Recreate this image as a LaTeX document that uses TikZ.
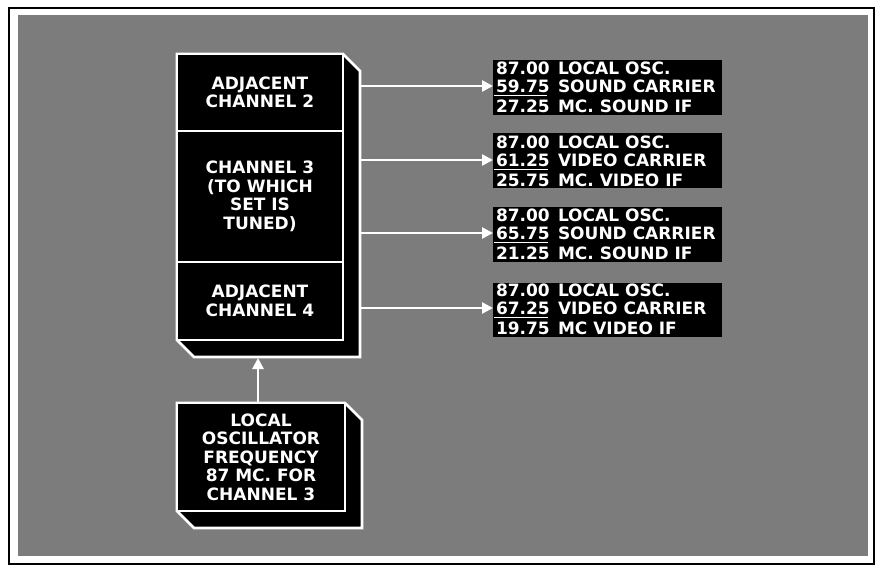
\documentclass[tikz,border=0pt]{standalone}
\usepackage{fontspec}
\newfontfamily\labfont{DejaVu Sans}
\usetikzlibrary{arrows.meta}
\definecolor{panel}{RGB}{124,124,124}
\begin{document}
\begin{tikzpicture}[x=1pt,y=-1pt,
  every node/.style={inner sep=0pt, outer sep=0pt},
  lettering/.style={text=white, font=\labfont\bfseries\fontsize{17}{18.5}\selectfont},
  face/.style={rectangle, draw=white, line width=2.6pt, fill=black, lettering, align=center},
  solid3d/.style={draw=white, fill=black, line width=2.6pt, line join=miter},
  blk/.style={rectangle, fill=black, minimum width=229pt},
  num/.style={lettering, anchor=west},
  wrd/.style={lettering, anchor=west},
  uline/.style={draw=white, line width=1.8pt},
  arr/.style={draw=white, line width=2.6pt, -{Triangle[length=11pt,width=11pt]}}
]
\useasboundingbox (0,0) rectangle (880,569);
\fill[white] (0,0) rectangle (880,569);
\draw[black, line width=1.5pt] (9,8) rectangle (874,564);
\fill[panel] (18,15) rectangle (868,556);

% tuner block
\draw[solid3d] (177,54) -- (343,54) -- (360,71) -- (360,357) -- (194,357) -- (177,340) -- cycle;
\node[face, minimum width=166pt, minimum height=77pt] (ch2) at (260,92.5) {ADJACENT\\CHANNEL 2};
\node[face, minimum width=166pt, minimum height=131pt] (ch3) at (260,196.5) {CHANNEL 3\\(TO WHICH\\SET IS\\TUNED)};
\node[face, minimum width=166pt, minimum height=78pt] (ch4) at (260,301) {ADJACENT\\CHANNEL 4};
\coordinate (sideR) at (360,0);
\coordinate (bot) at (0,358);

% oscillator block
\draw[solid3d] (177,403) -- (345,403) -- (362,420) -- (362,528) -- (194,528) -- (177,511) -- cycle;
\node[face, minimum width=168pt, minimum height=108pt] (osc) at (261,457) {LOCAL\\OSCILLATOR\\FREQUENCY\\87 MC. FOR\\CHANNEL 3};

% result blocks
\node[blk, minimum height=55pt] (b1) at (607.5,87.5) {};
\node[blk, minimum height=55pt] (b2) at (607.5,160.5) {};
\node[blk, minimum height=55pt] (b3) at (607.5,234.5) {};
\node[blk, minimum height=54pt] (b4) at (607.5,310) {};

\node[num] (b1a) at (496,68) {87.00}; \node[wrd] (b1d) at (558,68) {LOCAL OSC.};
\node[num] (b1b) at (496,86) {59.75}; \node[wrd] (b1e) at (558,86) {SOUND CARRIER};
\node[num] (b1c) at (496,106) {27.25}; \node[wrd] (b1f) at (558,106) {MC. SOUND IF};
\draw[uline] (494,95.5) -- (547,95.5);

\node[num] (b2a) at (496,142) {87.00}; \node[wrd] (b2d) at (558,142) {LOCAL OSC.};
\node[num] (b2b) at (496,160) {61.25}; \node[wrd] (b2e) at (558,160) {VIDEO CARRIER};
\node[num] (b2c) at (496,180) {25.75}; \node[wrd] (b2f) at (558,180) {MC. VIDEO IF};
\draw[uline] (494,169.5) -- (548,169.5);

\node[num] (b3a) at (496,215) {87.00}; \node[wrd] (b3d) at (558,215) {LOCAL OSC.};
\node[num] (b3b) at (496,233) {65.75}; \node[wrd] (b3e) at (558,233) {SOUND CARRIER};
\node[num] (b3c) at (496,253) {21.25}; \node[wrd] (b3f) at (558,253) {MC. SOUND IF};
\draw[uline] (494,242.5) -- (548,242.5);

\node[num] (b4a) at (496,290) {87.00}; \node[wrd] (b4d) at (558,290) {LOCAL OSC.};
\node[num] (b4b) at (496,308) {67.25}; \node[wrd] (b4e) at (558,308) {VIDEO CARRIER};
\node[num] (b4c) at (496,328) {19.75}; \node[wrd] (b4f) at (558,328) {MC VIDEO IF};
\draw[uline] (494,317.5) -- (548,317.5);

% arrows
\draw[arr] (b1b.west -| sideR) -- (b1b.west -| b1.west);
\draw[arr] (b2b.west -| sideR) -- (b2b.west -| b2.west);
\draw[arr] (b3b.west -| sideR) -- (b3b.west -| b3.west);
\draw[arr] (b4b.west -| sideR) -- (b4b.west -| b4.west);
\draw[arr] ([xshift=-3pt]osc.north) -- ([xshift=-3pt]osc.north |- bot);
\end{tikzpicture}
\end{document}
